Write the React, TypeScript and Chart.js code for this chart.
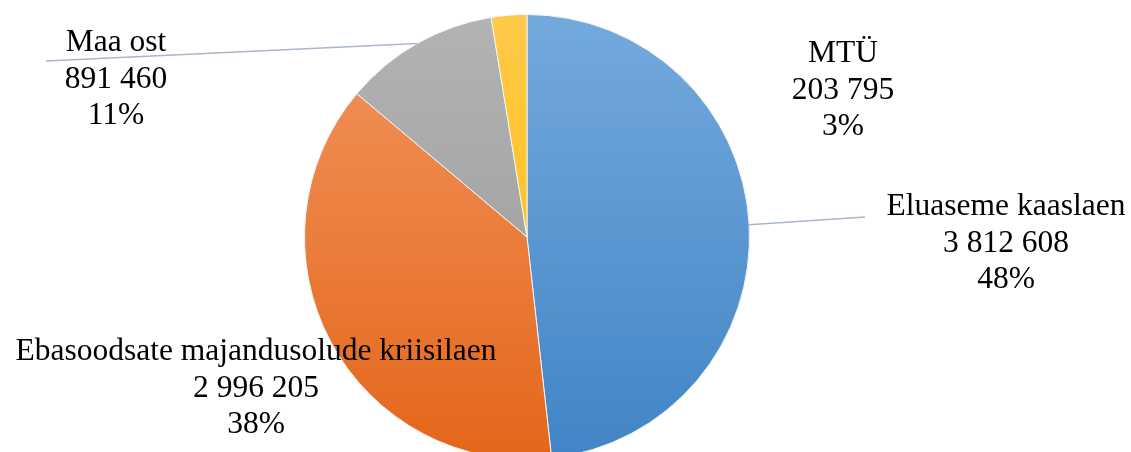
import React, { useEffect, useRef } from "react";
import { Chart, registerables } from "chart.js";

Chart.register(...registerables);

const categories = [
  "Eluaseme kaaslaen",
  "Ebasoodsate majandusolude kriisilaen",
  "Maa ost",
  "MTÜ",
];
const values = [3812608, 2996205, 891460, 203795];
const topColors = ["#74a9dd", "#f2955e", "#b3b3b3", "#ffc94a"];
const bottomColors = ["#4085c6", "#e4661a", "#979797", "#fbbf00"];

// label placement relative to pie centre (x centre, first baseline)
const labelOffsets = [
  { dx: 479, dy: -22, leader: { dx: -141, dy: 2 } },
  { dx: -271, dy: 123, leader: null },
  { dx: -411, dy: -186, leader: { dx: -70, dy: 10 } },
  { dx: 316, dy: -175, leader: null },
];

const FONT = '31.5px "Liberation Serif", "Times New Roman", serif';
const LINE_H = 36.5;

function fmt(n: number): string {
  return String(n).replace(/\B(?=(\d{3})+(?!\d))/g, " ");
}

const labelPlugin = {
  id: "pieLabels",
  afterDatasetsDraw(chart: any) {
    const meta = chart.getDatasetMeta(0);
    const ctx = chart.ctx as CanvasRenderingContext2D;
    const total = values.reduce((a, b) => a + b, 0);
    ctx.save();
    meta.data.forEach((arc: any, i: number) => {
      const p = arc.getProps(["x", "y", "startAngle", "endAngle", "outerRadius"], true);
      const mid = (p.startAngle + p.endAngle) / 2;
      const ex = p.x + Math.cos(mid) * p.outerRadius;
      const ey = p.y + Math.sin(mid) * p.outerRadius;
      const off = labelOffsets[i];
      const lx = p.x + off.dx;
      const ly = p.y + off.dy;
      if (off.leader) {
        ctx.beginPath();
        ctx.strokeStyle = "#a8b7cb";
        ctx.lineWidth = 1.5;
        ctx.moveTo(ex, ey);
        ctx.lineTo(lx + off.leader.dx, ly + off.leader.dy);
        ctx.stroke();
      }
      const lines = [
        categories[i],
        fmt(values[i]),
        Math.round((values[i] / total) * 100) + "%",
      ];
      ctx.fillStyle = "#000000";
      ctx.font = FONT;
      ctx.textAlign = "center";
      ctx.textBaseline = "alphabetic";
      lines.forEach((t, k) => ctx.fillText(t, lx, ly + k * LINE_H));
    });
    ctx.restore();
  },
};

export default function App() {
  const ref = useRef<HTMLCanvasElement | null>(null);
  useEffect(() => {
    if (!ref.current) return;
    const chart = new Chart(ref.current, {
      type: "pie",
      data: {
        labels: categories,
        datasets: [
          {
            data: values,
            backgroundColor: (c: any) => {
              const ch = c.chart;
              const i = c.dataIndex ?? 0;
              const area = ch.chartArea;
              if (!area) return topColors[i];
              const cy = (area.top + area.bottom) / 2;
              const r = Math.min(area.right - area.left, area.bottom - area.top) / 2;
              const g = ch.ctx.createLinearGradient(0, cy - r, 0, cy + r);
              g.addColorStop(0, topColors[i]);
              g.addColorStop(1, bottomColors[i]);
              return g;
            },
            borderColor: "#f4f4f4",
            borderWidth: 1,
          },
        ],
      },
      options: {
        responsive: false,
        devicePixelRatio: 1,
        animation: false,
        events: [],
        layout: { padding: { top: 14, bottom: 10, left: 0, right: 77 } },
        plugins: {
          legend: { display: false },
          tooltip: { enabled: false },
        },
      },
      plugins: [labelPlugin],
    });
    return () => chart.destroy();
  }, []);
  return (
    <div
      style={{
        position: "absolute",
        left: 0,
        top: 0,
        width: 1131,
        height: 452,
        overflow: "hidden",
        background: "#ffffff",
      }}
    >
      <canvas ref={ref} width={1131} height={470} style={{ display: "block" }} />
    </div>
  );
}
